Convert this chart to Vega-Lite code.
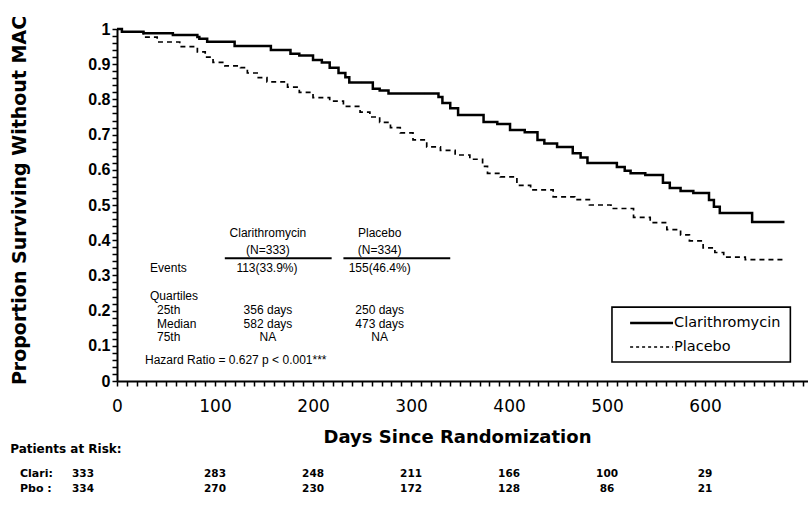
{
  "$schema": "https://vega.github.io/schema/vega-lite/v6.json",
  "width": 691,
  "height": 352,
  "autosize": {"type": "none"},
  "padding": {"left": 117, "top": 29, "right": 0, "bottom": 124},
  "background": "white",
  "config": {"view": {"stroke": null}, "font": "DejaVu Sans"},
  "datasets": {
    "km": [
      {"arm": "Clarithromycin", "day": 0, "surv": 1.0},
      {"arm": "Clarithromycin", "day": 5, "surv": 0.992},
      {"arm": "Clarithromycin", "day": 27, "surv": 0.988},
      {"arm": "Clarithromycin", "day": 57, "surv": 0.983},
      {"arm": "Clarithromycin", "day": 82, "surv": 0.977},
      {"arm": "Clarithromycin", "day": 84, "surv": 0.972},
      {"arm": "Clarithromycin", "day": 92, "surv": 0.964},
      {"arm": "Clarithromycin", "day": 120, "surv": 0.952},
      {"arm": "Clarithromycin", "day": 157, "surv": 0.94},
      {"arm": "Clarithromycin", "day": 177, "surv": 0.93},
      {"arm": "Clarithromycin", "day": 186, "surv": 0.925},
      {"arm": "Clarithromycin", "day": 200, "surv": 0.912},
      {"arm": "Clarithromycin", "day": 209, "surv": 0.905},
      {"arm": "Clarithromycin", "day": 217, "surv": 0.89},
      {"arm": "Clarithromycin", "day": 226, "surv": 0.875},
      {"arm": "Clarithromycin", "day": 233, "surv": 0.863},
      {"arm": "Clarithromycin", "day": 237, "surv": 0.848},
      {"arm": "Clarithromycin", "day": 261, "surv": 0.83},
      {"arm": "Clarithromycin", "day": 268, "surv": 0.825},
      {"arm": "Clarithromycin", "day": 277, "surv": 0.817},
      {"arm": "Clarithromycin", "day": 328, "surv": 0.807},
      {"arm": "Clarithromycin", "day": 332, "surv": 0.79},
      {"arm": "Clarithromycin", "day": 340, "surv": 0.775},
      {"arm": "Clarithromycin", "day": 348, "surv": 0.756},
      {"arm": "Clarithromycin", "day": 374, "surv": 0.736},
      {"arm": "Clarithromycin", "day": 388, "surv": 0.73},
      {"arm": "Clarithromycin", "day": 401, "surv": 0.713},
      {"arm": "Clarithromycin", "day": 416, "surv": 0.707},
      {"arm": "Clarithromycin", "day": 429, "surv": 0.685},
      {"arm": "Clarithromycin", "day": 436, "surv": 0.675},
      {"arm": "Clarithromycin", "day": 449, "surv": 0.665},
      {"arm": "Clarithromycin", "day": 465, "surv": 0.647},
      {"arm": "Clarithromycin", "day": 473, "surv": 0.635},
      {"arm": "Clarithromycin", "day": 480, "surv": 0.619},
      {"arm": "Clarithromycin", "day": 510, "surv": 0.608},
      {"arm": "Clarithromycin", "day": 518, "surv": 0.597},
      {"arm": "Clarithromycin", "day": 524, "surv": 0.59},
      {"arm": "Clarithromycin", "day": 539, "surv": 0.585},
      {"arm": "Clarithromycin", "day": 557, "surv": 0.563},
      {"arm": "Clarithromycin", "day": 564, "surv": 0.548},
      {"arm": "Clarithromycin", "day": 575, "surv": 0.54},
      {"arm": "Clarithromycin", "day": 588, "surv": 0.534},
      {"arm": "Clarithromycin", "day": 604, "surv": 0.514},
      {"arm": "Clarithromycin", "day": 609, "surv": 0.495},
      {"arm": "Clarithromycin", "day": 615, "surv": 0.477},
      {"arm": "Clarithromycin", "day": 648, "surv": 0.452},
      {"arm": "Clarithromycin", "day": 681, "surv": 0.452},
      {"arm": "Placebo", "day": 0, "surv": 1.0},
      {"arm": "Placebo", "day": 5, "surv": 0.992},
      {"arm": "Placebo", "day": 27, "surv": 0.977},
      {"arm": "Placebo", "day": 41, "surv": 0.963},
      {"arm": "Placebo", "day": 64, "surv": 0.95},
      {"arm": "Placebo", "day": 82, "surv": 0.935},
      {"arm": "Placebo", "day": 90, "surv": 0.92},
      {"arm": "Placebo", "day": 98, "surv": 0.905},
      {"arm": "Placebo", "day": 110, "surv": 0.895},
      {"arm": "Placebo", "day": 126, "surv": 0.89},
      {"arm": "Placebo", "day": 133, "surv": 0.875},
      {"arm": "Placebo", "day": 143, "surv": 0.862},
      {"arm": "Placebo", "day": 153, "surv": 0.85},
      {"arm": "Placebo", "day": 174, "surv": 0.835},
      {"arm": "Placebo", "day": 186, "surv": 0.82},
      {"arm": "Placebo", "day": 200, "surv": 0.805},
      {"arm": "Placebo", "day": 217, "surv": 0.795},
      {"arm": "Placebo", "day": 231, "surv": 0.78},
      {"arm": "Placebo", "day": 248, "surv": 0.764},
      {"arm": "Placebo", "day": 258, "surv": 0.75},
      {"arm": "Placebo", "day": 268, "surv": 0.735},
      {"arm": "Placebo", "day": 279, "surv": 0.72},
      {"arm": "Placebo", "day": 289, "surv": 0.705},
      {"arm": "Placebo", "day": 302, "surv": 0.685},
      {"arm": "Placebo", "day": 316, "surv": 0.665},
      {"arm": "Placebo", "day": 330, "surv": 0.655},
      {"arm": "Placebo", "day": 345, "surv": 0.642},
      {"arm": "Placebo", "day": 360, "surv": 0.63},
      {"arm": "Placebo", "day": 373, "surv": 0.61},
      {"arm": "Placebo", "day": 378, "surv": 0.59},
      {"arm": "Placebo", "day": 391, "surv": 0.58},
      {"arm": "Placebo", "day": 408, "surv": 0.556},
      {"arm": "Placebo", "day": 422, "surv": 0.543},
      {"arm": "Placebo", "day": 445, "surv": 0.523},
      {"arm": "Placebo", "day": 467, "surv": 0.515},
      {"arm": "Placebo", "day": 482, "surv": 0.5},
      {"arm": "Placebo", "day": 504, "surv": 0.49},
      {"arm": "Placebo", "day": 527, "surv": 0.465},
      {"arm": "Placebo", "day": 544, "surv": 0.45},
      {"arm": "Placebo", "day": 561, "surv": 0.43},
      {"arm": "Placebo", "day": 575, "surv": 0.415},
      {"arm": "Placebo", "day": 584, "surv": 0.398},
      {"arm": "Placebo", "day": 598, "surv": 0.378},
      {"arm": "Placebo", "day": 610, "surv": 0.365},
      {"arm": "Placebo", "day": 619, "surv": 0.352},
      {"arm": "Placebo", "day": 641, "surv": 0.345},
      {"arm": "Placebo", "day": 679, "surv": 0.345}
    ],
    "risk": [
      {"arm": "Clari", "day": 0, "n": 333},
      {"arm": "Clari", "day": 100, "n": 283},
      {"arm": "Clari", "day": 200, "n": 248},
      {"arm": "Clari", "day": 300, "n": 211},
      {"arm": "Clari", "day": 400, "n": 166},
      {"arm": "Clari", "day": 500, "n": 100},
      {"arm": "Clari", "day": 600, "n": 29},
      {"arm": "Pbo", "day": 0, "n": 334},
      {"arm": "Pbo", "day": 100, "n": 270},
      {"arm": "Pbo", "day": 200, "n": 230},
      {"arm": "Pbo", "day": 300, "n": 172},
      {"arm": "Pbo", "day": 400, "n": 128},
      {"arm": "Pbo", "day": 500, "n": 86},
      {"arm": "Pbo", "day": 600, "n": 21}
    ]
  },
  "layer": [
    {
      "data": {"name": "km"},
      "mark": {"type": "line", "interpolate": "step-after", "color": "black"},
      "encoding": {
        "x": {
          "field": "day", "type": "quantitative",
          "scale": {"domain": [0, 705], "nice": false, "zero": false},
          "axis": {
            "tickCount": 70,
            "format": "d",
            "labelExpr": "(datum.value % 100 === 0 && datum.value < 700) ? datum.label : ''",
            "labelOverlap": false, "labelFlush": false,
            "labelFont": "DejaVu Sans", "labelFontSize": 17, "labelColor": "black",
            "labelPadding": 12,
            "tickSize": 5, "tickWidth": 1.5, "tickColor": "black",
            "domainColor": "black", "domainWidth": 2, "grid": false,
            "title": "Days Since Randomization",
            "titleFont": "DejaVu Sans", "titleFontSize": 18, "titleFontWeight": "bold", "titleColor": "black",
            "titleX": 340, "titleY": 56, "titleBaseline": "middle", "titleAlign": "center"
          }
        },
        "y": {
          "field": "surv", "type": "quantitative",
          "scale": {"domain": [0, 1], "nice": false},
          "axis": {
            "tickCount": 50,
            "labelExpr": "round(datum.value * 100) % 10 === 0 ? format(datum.value, '~g') : ''",
            "labelOverlap": false, "labelFlush": false,
            "labelFont": "Liberation Sans", "labelFontSize": 16, "labelFontWeight": "bold", "labelColor": "black",
            "labelPadding": 2,
            "tickSize": 5, "tickWidth": 1.5, "tickColor": "black",
            "domainColor": "black", "domainWidth": 2, "grid": false,
            "title": "Proportion Surviving Without MAC",
            "titleFont": "DejaVu Sans", "titleFontSize": 19, "titleFontWeight": "bold", "titleColor": "black",
            "titleX": -98, "titleY": 171, "titleBaseline": "middle", "titleAlign": "center", "titleAngle": -90
          }
        },
        "strokeDash": {"field": "arm", "type": "nominal", "scale": {"domain": ["Clarithromycin", "Placebo"], "range": [[1, 0], [5, 4]]}, "legend": null},
        "strokeWidth": {"field": "arm", "type": "nominal", "scale": {"domain": ["Clarithromycin", "Placebo"], "range": [2.5, 1.7]}, "legend": null}
      }
    },
    {
      "data": {"values": [{"t": "Clarithromycin\n(N=333)"}]},
      "mark": {"type": "text", "align": "center", "baseline": "middle", "font": "Liberation Sans", "fontSize": 12, "lineHeight": 17, "lineBreak": "\n", "color": "black"},
      "encoding": {"x": {"datum": 154}, "y": {"datum": 0.4205}, "text": {"field": "t"}}
    },
    {
      "data": {"values": [{"t": "Placebo\n(N=334)"}]},
      "mark": {"type": "text", "align": "center", "baseline": "middle", "font": "Liberation Sans", "fontSize": 12, "lineHeight": 17, "lineBreak": "\n", "color": "black"},
      "encoding": {"x": {"datum": 268}, "y": {"datum": 0.4205}, "text": {"field": "t"}}
    },
    {
      "data": {"values": [{"a": 110, "b": 219}, {"a": 231, "b": 340}]},
      "mark": {"type": "rule", "color": "black", "strokeWidth": 2},
      "encoding": {"x": {"field": "a", "type": "quantitative"}, "x2": {"field": "b"}, "y": {"datum": 0.349}}
    },
    {
      "data": {"values": [{"t": "Events"}]},
      "mark": {"type": "text", "align": "left", "baseline": "middle", "font": "Liberation Sans", "fontSize": 12, "color": "black"},
      "encoding": {"x": {"datum": 33.7}, "y": {"datum": 0.321}, "text": {"field": "t"}}
    },
    {
      "data": {"values": [{"t": "113(33.9%)"}]},
      "mark": {"type": "text", "align": "center", "baseline": "middle", "font": "Liberation Sans", "fontSize": 12, "color": "black"},
      "encoding": {"x": {"datum": 153}, "y": {"datum": 0.321}, "text": {"field": "t"}}
    },
    {
      "data": {"values": [{"t": "155(46.4%)"}]},
      "mark": {"type": "text", "align": "center", "baseline": "middle", "font": "Liberation Sans", "fontSize": 12, "color": "black"},
      "encoding": {"x": {"datum": 268}, "y": {"datum": 0.321}, "text": {"field": "t"}}
    },
    {
      "data": {"values": [{"t": "Quartiles"}]},
      "mark": {"type": "text", "align": "left", "baseline": "middle", "font": "Liberation Sans", "fontSize": 12, "color": "black"},
      "encoding": {"x": {"datum": 33.7}, "y": {"datum": 0.2415}, "text": {"field": "t"}}
    },
    {
      "data": {"values": [{"t": "25th\nMedian\n75th"}]},
      "mark": {"type": "text", "align": "left", "baseline": "middle", "font": "Liberation Sans", "fontSize": 12, "lineHeight": 13.5, "lineBreak": "\n", "color": "black"},
      "encoding": {"x": {"datum": 40.8}, "y": {"datum": 0.2017}, "text": {"field": "t"}}
    },
    {
      "data": {"values": [{"t": "356 days\n582 days\nNA"}]},
      "mark": {"type": "text", "align": "center", "baseline": "middle", "font": "Liberation Sans", "fontSize": 12, "lineHeight": 13.5, "lineBreak": "\n", "color": "black"},
      "encoding": {"x": {"datum": 154}, "y": {"datum": 0.2017}, "text": {"field": "t"}}
    },
    {
      "data": {"values": [{"t": "250 days\n473 days\nNA"}]},
      "mark": {"type": "text", "align": "center", "baseline": "middle", "font": "Liberation Sans", "fontSize": 12, "lineHeight": 13.5, "lineBreak": "\n", "color": "black"},
      "encoding": {"x": {"datum": 268}, "y": {"datum": 0.2017}, "text": {"field": "t"}}
    },
    {
      "data": {"values": [{"t": "Hazard Ratio = 0.627  p < 0.001***"}]},
      "mark": {"type": "text", "align": "left", "baseline": "middle", "font": "Liberation Sans", "fontSize": 12, "color": "black"},
      "encoding": {"x": {"datum": 28.6}, "y": {"datum": 0.0597}, "text": {"field": "t"}}
    },
    {
      "data": {"values": [{"box": "legend"}]},
      "mark": {"type": "rect", "fill": "white", "stroke": "black", "strokeWidth": 1.6},
      "encoding": {"x": {"datum": 505}, "x2": {"datum": 687}, "y": {"datum": 0.21}, "y2": {"datum": 0.054}}
    },
    {
      "data": {"values": [{"arm": "Clarithromycin"}]},
      "mark": {"type": "rule", "color": "black", "strokeWidth": 2.5},
      "encoding": {"x": {"datum": 523.5}, "x2": {"datum": 567.3}, "y": {"datum": 0.165}}
    },
    {
      "data": {"values": [{"arm": "Placebo"}]},
      "mark": {"type": "rule", "color": "black", "strokeWidth": 1.7, "strokeDash": [3, 3]},
      "encoding": {"x": {"datum": 523.5}, "x2": {"datum": 567.3}, "y": {"datum": 0.0966}}
    },
    {
      "data": {"values": [{"arm": "Clarithromycin"}]},
      "mark": {"type": "text", "align": "left", "baseline": "middle", "fontSize": 14.5, "color": "black", "dx": 1},
      "encoding": {"x": {"datum": 567.3}, "y": {"datum": 0.165}, "text": {"field": "arm"}}
    },
    {
      "data": {"values": [{"arm": "Placebo"}]},
      "mark": {"type": "text", "align": "left", "baseline": "middle", "fontSize": 14.5, "color": "black", "dx": 1},
      "encoding": {"x": {"datum": 567.3}, "y": {"datum": 0.0966}, "text": {"field": "arm"}}
    },
    {
      "data": {"values": [{"t": "Patients at Risk:"}]},
      "mark": {"type": "text", "align": "left", "baseline": "middle", "fontSize": 12, "fontWeight": "bold", "color": "black"},
      "encoding": {"x": {"datum": -109}, "y": {"datum": -0.193}, "text": {"field": "t"}}
    },
    {
      "data": {"values": [{"t": "Clari:"}]},
      "mark": {"type": "text", "align": "left", "baseline": "middle", "fontSize": 11, "fontWeight": "bold", "color": "black"},
      "encoding": {"x": {"datum": -99}, "y": {"datum": -0.264}, "text": {"field": "t"}}
    },
    {
      "data": {"values": [{"t": "Pbo :"}]},
      "mark": {"type": "text", "align": "left", "baseline": "middle", "fontSize": 11, "fontWeight": "bold", "color": "black"},
      "encoding": {"x": {"datum": -99}, "y": {"datum": -0.307}, "text": {"field": "t"}}
    },
    {
      "data": {"name": "risk"},
      "transform": [{"filter": "datum.arm === 'Clari' && datum.day > 0"}],
      "mark": {"type": "text", "align": "center", "baseline": "middle", "fontSize": 10.5, "fontWeight": "bold", "color": "black"},
      "encoding": {"x": {"field": "day", "type": "quantitative"}, "y": {"datum": -0.264}, "text": {"field": "n"}}
    },
    {
      "data": {"name": "risk"},
      "transform": [{"filter": "datum.arm === 'Pbo' && datum.day > 0"}],
      "mark": {"type": "text", "align": "center", "baseline": "middle", "fontSize": 10.5, "fontWeight": "bold", "color": "black"},
      "encoding": {"x": {"field": "day", "type": "quantitative"}, "y": {"datum": -0.307}, "text": {"field": "n"}}
    },
    {
      "data": {"name": "risk"},
      "transform": [{"filter": "datum.arm === 'Clari' && datum.day === 0"}],
      "mark": {"type": "text", "align": "center", "baseline": "middle", "fontSize": 10.5, "fontWeight": "bold", "color": "black", "dx": -34},
      "encoding": {"x": {"field": "day", "type": "quantitative"}, "y": {"datum": -0.264}, "text": {"field": "n"}}
    },
    {
      "data": {"name": "risk"},
      "transform": [{"filter": "datum.arm === 'Pbo' && datum.day === 0"}],
      "mark": {"type": "text", "align": "center", "baseline": "middle", "fontSize": 10.5, "fontWeight": "bold", "color": "black", "dx": -34},
      "encoding": {"x": {"field": "day", "type": "quantitative"}, "y": {"datum": -0.307}, "text": {"field": "n"}}
    }
  ]
}
